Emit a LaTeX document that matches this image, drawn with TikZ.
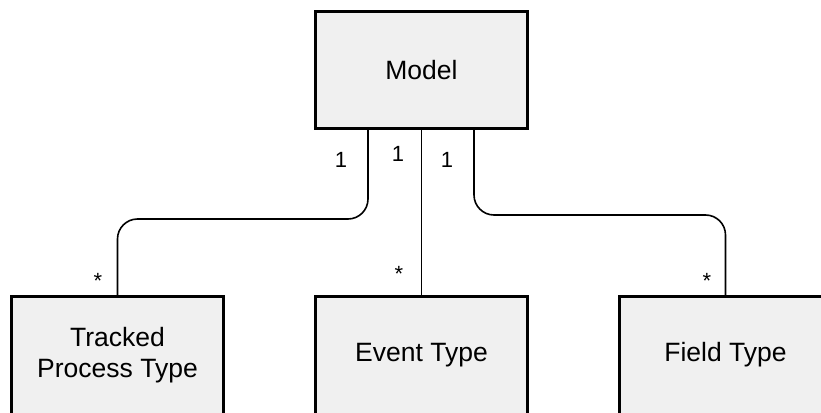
\documentclass[tikz,border=0pt]{standalone}
\usepackage{fontspec}
\setmainfont{Liberation Sans}
\definecolor{boxfill}{HTML}{F0F0F0}
\begin{document}
\begin{tikzpicture}[x=1pt,y=-1pt,
  entity/.style={draw=black, fill=boxfill, line width=3pt, minimum width=212pt, minimum height=117pt,
    inner sep=0pt, align=center, font=\fontsize{26.5}{31.5}\selectfont},
  lowbox/.style={entity, minimum height=150pt},
  boxtext/.style={inner sep=0pt, align=center, font=\fontsize{26.5}{31.5}\selectfont},
  conn/.style={draw=black, line width=1.6pt, rounded corners=20pt},
  mult/.style={anchor=base, inner sep=0pt, font=\fontsize{22}{26}\selectfont}]
\useasboundingbox (0,0) rectangle (821,412);
\node[entity] (model) at (421.5,70) {Model};
\node[lowbox] (tracked) at (117.5,371.5) {};
\node[lowbox] (event) at (421.5,371.5) {};
\node[lowbox] (field) at (725.5,371.5) {};
\node[boxtext] (trackedtext) at (117.5,355) {Tracked\\Process Type};
\node[boxtext] (eventtext) at (421.5,355) {Event Type};
\node[boxtext] (fieldtext) at (725.5,355) {Field Type};
\coordinate (mL) at ([xshift=-53.5pt]model.south);
\coordinate (mC) at (model.south);
\coordinate (mR) at ([xshift=52.5pt]model.south);
\draw[conn] (mL) -- (mL |- 0,219) -- (tracked.north |- 0,219) -- (tracked.north);
\draw[conn] (mC) -- (event.north);
\draw[conn] (mR) -- (mR |- 0,215) -- (field.north |- 0,215) -- (field.north);
\node[mult] (l1) at (341,167) {1};
\node[mult] (l2) at (398,161) {1};
\node[mult] (l3) at (447,167) {1};
\node[mult] (s1) at (98,288) {*};
\node[mult] (s2) at (399,281) {*};
\node[mult] (s3) at (707,288) {*};
\end{tikzpicture}
\end{document}
